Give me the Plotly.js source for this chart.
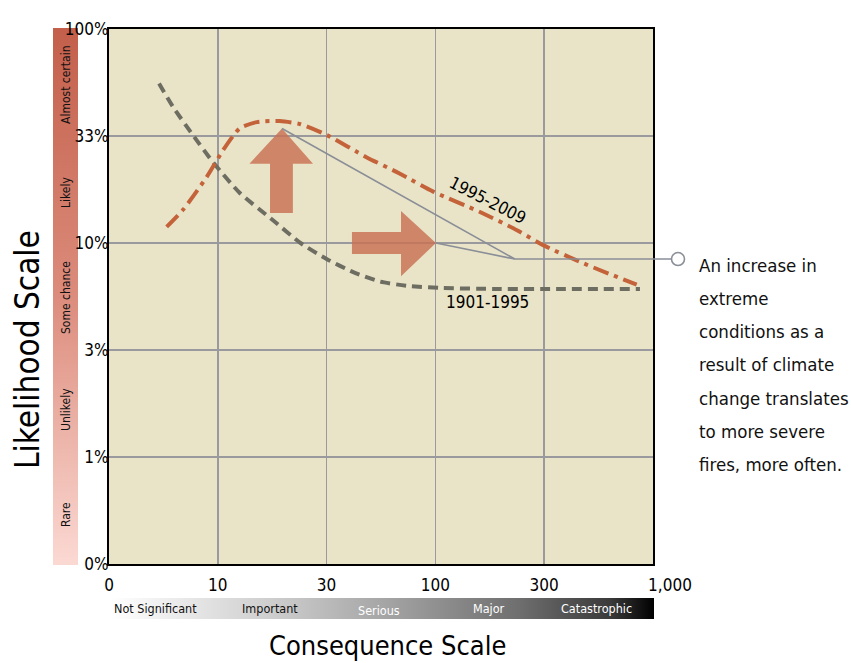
<!DOCTYPE html>
<html>
<head>
<meta charset="utf-8">
<script src="https://cdn.plot.ly/plotly-3.0.1.min.js"></script>
<style>html,body{margin:0;padding:0;background:#fff;}#chart{width:851px;height:663px;}</style>
</head>
<body>
<div id="chart"></div>
<script>
// ---- data (axis positions are index units: 0,10,30,100,300,1000 -> 0..5 ; 0%,1%,3%,10%,33%,100% -> 0..5)
const xTickVals = [0, 1, 2, 3, 4, 5];
const xTickText = ['0', '10', '30', '100', '300', '\u00a0\u00a0\u00a0\u00a0\u00a0\u00a0\u00a01,000'];
const yTickVals = [0, 1, 2, 3, 4, 5];
const yTickText = ['0%', '1%', '3%', '10%', '33%', '100%'];

const x1901 = [0.46, 0.59, 0.77, 0.96, 1.20, 1.51, 1.76, 2.00, 2.24, 2.49, 2.74, 3.04, 3.59, 4.15, 4.88];
const y1901 = [4.49, 4.27, 4.01, 3.75, 3.47, 3.21, 3.00, 2.85, 2.73, 2.64, 2.60, 2.58, 2.57, 2.57, 2.57];

const x2009 = [0.53, 0.68, 0.90, 1.05, 1.20, 1.36, 1.57, 1.76, 2.00, 2.37, 2.67, 2.98, 3.41, 3.75, 3.99, 4.36, 4.85];
const y2009 = [3.15, 3.31, 3.62, 3.87, 4.07, 4.13, 4.14, 4.11, 4.01, 3.80, 3.65, 3.48, 3.29, 3.12, 2.98, 2.81, 2.61];

const likelihoodLabels = ['Almost certain', 'Likely', 'Some chance', 'Unlikely', 'Rare'];
const consequenceLabels = ['Not Significant', 'Important', 'Serious', 'Major', 'Catastrophic'];
const noteLines = ['An increase in', 'extreme', 'conditions as a', 'result of climate', 'change translates', 'to more severe', 'fires, more often.'];

// ---- layout helpers (pixel -> paper, plot area 109..653 x 29..564)
const L = 109, R = 653, T = 29, B = 564;
const px = p => (p - L) / (R - L);
const py = p => (B - p) / (B - T);
const FONT = '"DejaVu Sans Condensed", "Liberation Sans Narrow", sans-serif';

function gradSvg(vertical, stops) {
  const g = vertical ? 'x1="0" y1="0" x2="0" y2="1"' : 'x1="0" y1="0" x2="1" y2="0"';
  const s = stops.map(st => '<stop offset="' + st[0] + '" stop-color="' + st[1] + '"/>').join('');
  const svg = '<svg xmlns="http://www.w3.org/2000/svg" width="100" height="100" preserveAspectRatio="none">' +
    '<defs><linearGradient id="g" ' + g + '>' + s + '</linearGradient></defs>' +
    '<rect width="100" height="100" fill="url(#g)"/></svg>';
  return 'data:image/svg+xml;charset=utf-8,' + encodeURIComponent(svg);
}

const traces = [
  {
    x: x1901, y: y1901, mode: 'lines', name: '1901-1995',
    line: {color: '#6e6d62', width: 4, dash: '10px,6px', shape: 'spline', smoothing: 0.6},
    hoverinfo: 'skip', showlegend: false
  },
  {
    x: x2009, y: y2009, mode: 'lines', name: '1995-2009',
    line: {color: '#c4623a', width: 4, dash: '16px,6px,4px,6px', shape: 'spline', smoothing: 0.6},
    hoverinfo: 'skip', showlegend: false
  }
];

const arrowFill = 'rgba(201,112,82,0.82)';
const connColor = '#8a8e96';
const shapes = [
  {type: 'path', xref: 'x', yref: 'y', layer: 'between', fillcolor: arrowFill, line: {width: 0},
   path: 'M1.59,4.07 L1.875,3.74 L1.69,3.74 L1.69,3.28 L1.48,3.28 L1.48,3.74 L1.29,3.74 Z'},
  {type: 'path', xref: 'x', yref: 'y', layer: 'between', fillcolor: arrowFill, line: {width: 0},
   path: 'M3.005,3.0 L2.684,3.30 L2.684,3.103 L2.233,3.103 L2.233,2.897 L2.684,2.897 L2.684,2.69 Z'},
  {type: 'line', xref: 'x', yref: 'y', x0: 1.59, y0: 4.07, x1: 3.73, y1: 2.85, line: {color: connColor, width: 1.6}},
  {type: 'line', xref: 'x', yref: 'y', x0: 3.005, y0: 3.0, x1: 3.73, y1: 2.85, line: {color: connColor, width: 1.6}},
  {type: 'line', xref: 'paper', yref: 'paper', x0: 3.73 / 5, y0: 2.85 / 5, x1: px(671.5), y1: 2.85 / 5, line: {color: connColor, width: 1.6}},
  {type: 'circle', xref: 'paper', yref: 'paper', xsizemode: 'pixel', ysizemode: 'pixel',
   xanchor: px(678), yanchor: 2.85 / 5, x0: -6.5, x1: 6.5, y0: -6.5, y1: 6.5,
   fillcolor: '#ffffff', line: {color: connColor, width: 1.6}}
];

const annotations = [];
function ann(o) {
  annotations.push(Object.assign({showarrow: false, xanchor: 'center', yanchor: 'middle'}, o));
}
ann({xref: 'paper', yref: 'paper', x: px(27), y: py(350), text: 'Likelihood Scale', textangle: -90,
  font: {family: FONT, size: 33, color: '#000'}});
ann({xref: 'paper', yref: 'paper', x: px(387), y: py(645), text: 'Consequence Scale',
  font: {family: FONT, size: 27, color: '#000'}});
ann({xref: 'x', yref: 'y', x: 3.48, y: 3.40, text: '1995-2009', textangle: 27,
  font: {family: FONT, size: 17, color: '#000'}});
ann({xref: 'x', yref: 'y', x: 3.48, y: 2.45, text: '1901-1995',
  font: {family: FONT, size: 17, color: '#000'}});
const likY = [85, 193, 298, 410, 515];
likelihoodLabels.forEach((t, i) => ann({xref: 'paper', yref: 'paper', x: px(66), y: py(likY[i]),
  text: t, textangle: -90, font: {family: FONT, size: 12, color: '#111'}}));
const conX = [155, 270, 379, 489, 596];
const conY = [608, 608, 610, 608, 608];
const conC = ['#111', '#111', '#fff', '#fff', '#fff'];
consequenceLabels.forEach((t, i) => ann({xref: 'paper', yref: 'paper', x: px(conX[i]), y: py(conY[i]),
  text: t, font: {family: FONT, size: 12.5, color: conC[i]}}));
noteLines.forEach((t, i) => ann({xref: 'paper', yref: 'paper', x: px(697), y: py(265 + i * 33.3),
  text: t, xanchor: 'left', font: {family: FONT, size: 18.5, color: '#111'}}));

const images = [
  {source: gradSvg(true, [[0, '#c35f4b'], [0.5, '#dc8c7c'], [1, '#fbd9d3']]),
   xref: 'paper', yref: 'paper', x: px(53), y: py(28), sizex: 25 / (R - L), sizey: 537 / (B - T),
   xanchor: 'left', yanchor: 'top', sizing: 'stretch', layer: 'below'},
  {source: gradSvg(false, [[0, '#ffffff'], [0.3, '#cdcdcd'], [0.5, '#a6a6a6'], [0.75, '#6f6f6f'], [0.92, '#3a3a3a'], [1, '#000000']]),
   xref: 'paper', yref: 'paper', x: px(111), y: py(598), sizex: (654 - 111) / (R - L), sizey: 21 / (B - T),
   xanchor: 'left', yanchor: 'top', sizing: 'stretch', layer: 'below'}
];

const layout = {
  width: 851, height: 663,
  margin: {l: L, r: 851 - R, t: T, b: 663 - B, pad: 0},
  paper_bgcolor: '#ffffff', plot_bgcolor: '#e9e4c8',
  showlegend: false,
  font: {family: FONT, color: '#000'},
  xaxis: {range: [0, 5], tickvals: xTickVals, ticktext: xTickText, showgrid: true, gridcolor: '#9a9a9e', gridwidth: 1.6,
    zeroline: false, showline: true, linecolor: '#000', linewidth: 2, mirror: true, ticks: '',
    tickfont: {family: FONT, size: 17, color: '#000'}, ticklabelstandoff: 5, fixedrange: true},
  yaxis: {range: [0, 5], tickvals: yTickVals, ticktext: yTickText, showgrid: true, gridcolor: '#9a9a9e', gridwidth: 1.6,
    zeroline: false, showline: true, linecolor: '#000', linewidth: 2, mirror: true, ticks: '',
    tickfont: {family: FONT, size: 17, color: '#000'}, ticklabelstandoff: -5, fixedrange: true},
  shapes: shapes,
  annotations: annotations,
  images: images
};

Plotly.newPlot('chart', traces, layout, {staticPlot: true, displayModeBar: false});
</script>
</body>
</html>
